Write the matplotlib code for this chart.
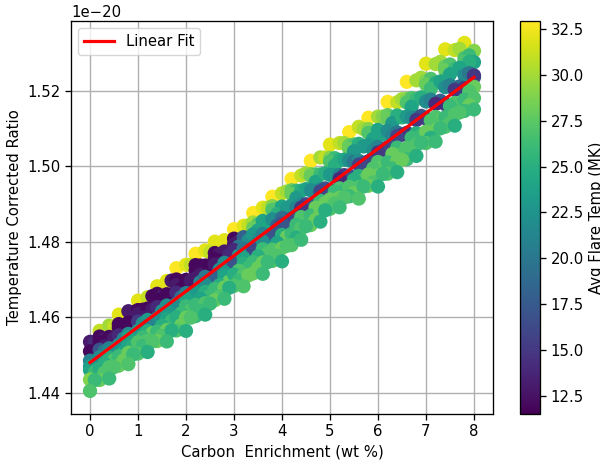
import matplotlib
matplotlib.use("Agg")
import matplotlib.pyplot as plt
import numpy as np

plt.rcParams.update({"font.size": 10.7, "axes.linewidth": 0.95, "xtick.major.size": 4, "ytick.major.size": 4,
                     "xtick.major.width": 0.95, "ytick.major.width": 0.95, "grid.linewidth": 1.0})

x_even = [0.0,0.4,0.8,1.2,1.6,2.0,2.4,2.8,3.2,3.6,4.0,4.4,4.8,5.2,5.6,6.0,6.4,6.8,7.2,7.6,8.0]
x_odd = [0.2,0.6,1.0,1.4,1.8,2.2,2.6,3.0,3.4,3.8,4.2,4.6,5.0,5.4,5.8,6.2,6.6,7.0,7.4,7.8]
x_a = [0.1,0.5,0.9,1.3,1.7,2.1,2.5,2.9,3.3,3.7,4.1,4.5,4.9,5.3,5.7,6.1,6.5,6.9,7.3,7.7]
x_b = [0.3,0.7,1.1,1.5,1.9,2.3,2.7,3.1,3.5,3.9,4.3,4.7,5.1,5.5,5.9,6.3,6.7,7.1,7.5,7.9]

y12 = [1.4564,1.4607,1.4644,1.4682,1.4730,1.4768,1.4800,1.4833,1.4876,1.4919,1.4966,1.5014,1.5057,1.5090,1.5128,1.5170,1.5223,1.5271,1.5309,1.5326]
t12 = [31,32,32,32,33,33,32,33,33,33,33,33,32,33,33,33,33,32,32,32]
y11 = [1.4535,1.4578,1.4616,1.4653,1.4696,1.4739,1.4777,1.4804,1.4842,1.4890,1.4928,1.4975,1.5023,1.5061,1.5104,1.5131,1.5169,1.5227,1.5270,1.5307,1.5305]
t11 = [13,30,13,31,32,32,32,32,32,32,31,31,30,31,31,30,31,30,30,31,29]
m7y = [1.4534,1.4576,1.4614,1.4656,1.4697,1.4739,1.4772,1.4802,1.4843,1.4890,1.4933,1.4981,1.5023,1.5061,1.5098,1.5131,1.5177,1.5234,1.5276,1.5310]
m7t = [14,31,13,12,13,31,31,32,31,31,30,30,31,30,30,29,30,30,30,30]
y10 = [1.4549,1.4582,1.4619,1.4662,1.4700,1.4738,1.4770,1.4808,1.4851,1.4894,1.4936,1.4979,1.5022,1.5055,1.5098,1.5135,1.5178,1.5226,1.5264,1.5286]
t10 = [12,12,12,12,12,12,12,12,30,29,28,29,29,28,29,28,29,29,28,27]
m6y = [1.4542,1.4578,1.4620,1.4655,1.4695,1.4737,1.4767,1.4801,1.4846,1.4887,1.4935,1.4978,1.5021,1.5057,1.5089,1.5130,1.5180,1.5231,1.5269,1.5293]
m6t = [13,12,12,13,12,12,13,13,27,27,26,27,26,27,28,27,27,27,27,26]
n2y = [1.4534,1.4572,1.4609,1.4647,1.4685,1.4723,1.4755,1.4793,1.4836,1.4884,1.4926,1.4974,1.5012,1.5045,1.5088,1.5125,1.5168,1.5216,1.5254,1.5276]
n2t = [12,12,13,12,13,12,12,13,28,27,28,28,27,28,27,28,27,28,28,27]
y9 = [1.4510,1.4548,1.4586,1.4623,1.4661,1.4699,1.4737,1.4774,1.4812,1.4855,1.4893,1.4935,1.4978,1.5016,1.5059,1.5096,1.5134,1.5177,1.5220,1.5257,1.5275]
t9 = [12,12,12,12,12,12,12,13,18,24,24,25,26,25,25,24,25,26,25,26,24]
n1y = [1.4523,1.4561,1.4599,1.4636,1.4674,1.4712,1.4750,1.4787,1.4830,1.4873,1.4916,1.4958,1.5001,1.5039,1.5072,1.5114,1.5157,1.5205,1.5243,1.5276]
n1t = [13,12,13,12,12,13,12,20,24,25,23,24,25,23,24,23,24,26,24,25]
m5y = [1.4504,1.4544,1.4580,1.4620,1.4657,1.4697,1.4732,1.4764,1.4803,1.4846,1.4889,1.4939,1.4981,1.5017,1.5052,1.5085,1.5129,1.5182,1.5224,1.5260]
m5t = [12,13,12,13,12,13,12,14,22,24,23,24,25,24,23,24,25,25,24,24]
y8 = [1.4514,1.4552,1.4589,1.4627,1.4665,1.4703,1.4740,1.4778,1.4819,1.4859,1.4896,1.4936,1.4977,1.5015,1.5055,1.5093,1.5131,1.5171,1.5209,1.5241]
t8 = [17,14,15,14,14,13,13,14,23,22,23,22,23,22,23,22,23,22,22,22]
m4y = [1.4510,1.4543,1.4584,1.4616,1.4653,1.4693,1.4726,1.4763,1.4804,1.4842,1.4890,1.4934,1.4977,1.5011,1.5042,1.5081,1.5128,1.5176,1.5214,1.5246]
m4t = [20,21,22,22,19,21,22,23,22,18,21,22,23,20,22,21,22,21,21,20]
y7 = [1.4485,1.4518,1.4556,1.4593,1.4631,1.4664,1.4707,1.4744,1.4782,1.4820,1.4863,1.4900,1.4938,1.4976,1.5014,1.5051,1.5089,1.5127,1.5165,1.5202,1.5235]
t7 = [21,21,22,23,22,21,20,22,20,21,19,22,21,21,22,21,20,21,20,19,17]
m3y = [1.4475,1.4513,1.4548,1.4585,1.4619,1.4657,1.4692,1.4729,1.4765,1.4805,1.4848,1.4899,1.4941,1.4976,1.5008,1.5041,1.5083,1.5133,1.5173,1.5211]
m3t = [22,23,21,23,24,22,23,21,23,24,18,16,17,15,17,16,15,17,18,19]
y6 = [1.4494,1.4527,1.4564,1.4597,1.4635,1.4668,1.4705,1.4743,1.4781,1.4819,1.4861,1.4899,1.4937,1.4975,1.5013,1.5050,1.5088,1.5126,1.5164,1.5206]
t6 = [22,22,23,22,22,23,18,17,16,17,16,17,16,17,16,16,15,16,15,15]
n5y = [1.4470,1.4508,1.4546,1.4578,1.4616,1.4649,1.4687,1.4719,1.4757,1.4800,1.4848,1.4890,1.4933,1.4966,1.5004,1.5036,1.5079,1.5122,1.5165,1.5202,1.5240]
n5t = [23,22,24,21,23,24,22,23,24,22,17,15,16,14,16,15,16,15,14,15,15]
y5 = [1.4460,1.4493,1.4531,1.4563,1.4596,1.4629,1.4667,1.4709,1.4742,1.4780,1.4818,1.4865,1.4908,1.4941,1.4974,1.5011,1.5049,1.5087,1.5130,1.5167,1.5210]
t5 = [24,25,24,25,24,26,25,24,25,26,25,27,26,27,25,27,26,25,27,27,28]
n3y = [1.4454,1.4487,1.4525,1.4558,1.4590,1.4618,1.4656,1.4694,1.4731,1.4769,1.4812,1.4860,1.4902,1.4935,1.4963,1.4996,1.5033,1.5081,1.5119,1.5162]
n3t = [26,27,25,28,26,27,26,28,26,27,28,27,28,26,27,28,27,26,28,27]
m2y = [1.4477,1.4508,1.4547,1.4577,1.4610,1.4649,1.4685,1.4723,1.4761,1.4797,1.4845,1.4890,1.4933,1.4964,1.4994,1.5032,1.5075,1.5121,1.5159,1.5198]
m2t = [25,24,26,25,26,24,25,27,25,24,26,28,26,25,27,28,26,27,26,27]
y4 = [1.4464,1.4497,1.4534,1.4562,1.4600,1.4633,1.4675,1.4713,1.4746,1.4779,1.4821,1.4869,1.4912,1.4945,1.4978,1.5010,1.5048,1.5091,1.5129,1.5176]
t4 = [25,26,27,26,25,26,26,25,26,27,26,26,28,27,28,26,27,28,26,26]
y3 = [1.4435,1.4468,1.4506,1.4538,1.4566,1.4599,1.4637,1.4679,1.4712,1.4745,1.4783,1.4835,1.4883,1.4916,1.4944,1.4976,1.5014,1.5057,1.5095,1.5137,1.5180]
t3 = [29,27,28,27,28,28,27,28,27,28,28,27,28,28,27,28,28,27,28,27,27]
n4y = [1.4453,1.4486,1.4524,1.4551,1.4579,1.4617,1.4655,1.4697,1.4730,1.4763,1.4811,1.4858,1.4901,1.4929,1.4957,1.4994,1.5032,1.5075,1.5113,1.5161]
n4t = [27,28,26,27,28,26,27,26,28,27,25,28,27,28,27,26,27,25,27,28]
y2 = [1.4434,1.4472,1.4504,1.4537,1.4565,1.4603,1.4645,1.4683,1.4716,1.4749,1.4791,1.4844,1.4887,1.4920,1.4948,1.4980,1.5018,1.5061,1.5104,1.5146]
t2 = [28,28,27,28,27,26,28,27,28,27,27,28,27,26,28,27,26,27,27,26]
m1y = [1.4434,1.4468,1.4502,1.4536,1.4565,1.4599,1.4636,1.4678,1.4711,1.4746,1.4789,1.4841,1.4883,1.4917,1.4946,1.4979,1.5017,1.5062,1.5100,1.5142]
m1t = [26,27,26,27,25,27,26,25,28,26,27,26,25,27,26,26,28,26,26,27]
y1 = [1.4405,1.4438,1.4476,1.4508,1.4536,1.4564,1.4607,1.4649,1.4682,1.4715,1.4748,1.4805,1.4853,1.4891,1.4914,1.4946,1.4984,1.5027,1.5065,1.5107,1.5150]
t1 = [27,26,27,25,26,25,25,26,27,26,25,26,25,26,27,25,25,25,26,25,26]

fit_x = [0.0, 8.0]
fit_y = [1.4480, 1.5235]
cbar_ticks = [12.5,15.0,17.5,20.0,22.5,25.0,27.5,30.0,32.5]
temp_min, temp_max = 11.5, 32.95

xs = (x_odd+x_even+x_a+x_odd+x_b+x_odd+x_even+x_b+x_a+x_odd+x_b+x_even+x_a+x_odd
      +x_even+x_even+x_a+x_b+x_odd+x_even+x_b+x_odd+x_a+x_even)
ys = (y12+y11+m7y+y10+m6y+n2y+y9+n1y+m5y+y8+m4y+y7+m3y+y6
      +n5y+y5+n3y+m2y+y4+y3+n4y+y2+m1y+y1)
ts = (t12+t11+m7t+t10+m6t+n2t+t9+n1t+m5t+t8+m4t+t7+m3t+t6
      +n5t+t5+n3t+m2t+t4+t3+n4t+t2+m1t+t1)

fig = plt.figure(figsize=(6, 4.62), dpi=100)
ax = fig.add_axes([71/600, 1-414/462, 422/600, 393/462])
cax = fig.add_axes([520/600, 1-414/462, 20/600, 393/462])

sc = ax.scatter(xs, np.array(ys)*1e-20, c=ts, cmap="viridis", s=105, vmin=temp_min, vmax=temp_max, linewidths=0)
ax.plot(fit_x, np.array(fit_y)*1e-20, color="red", lw=2.3, label="Linear Fit")
ax.set_xlim(-0.396, 8.396)
ax.set_ylim(1.4344e-20, 1.5384e-20)
ax.set_yticks(np.array([1.44,1.46,1.48,1.50,1.52])*1e-20)
ax.set_xticks(range(0, 9))
ax.set_axisbelow(True)
ax.grid(True)
ax.set_xlabel("Carbon  Enrichment (wt %)")
ax.set_ylabel("Temperature Corrected Ratio")
ax.yaxis.set_label_coords((22-71)/422, 0.5)
ax.legend(loc="upper left")
cb = fig.colorbar(sc, cax=cax, ticks=cbar_ticks)
cb.set_label("Avg Flare Temp (MK)")
cb.ax.yaxis.set_label_coords((589-520)/20, 0.5)
fig.savefig("out.png", dpi=100)
